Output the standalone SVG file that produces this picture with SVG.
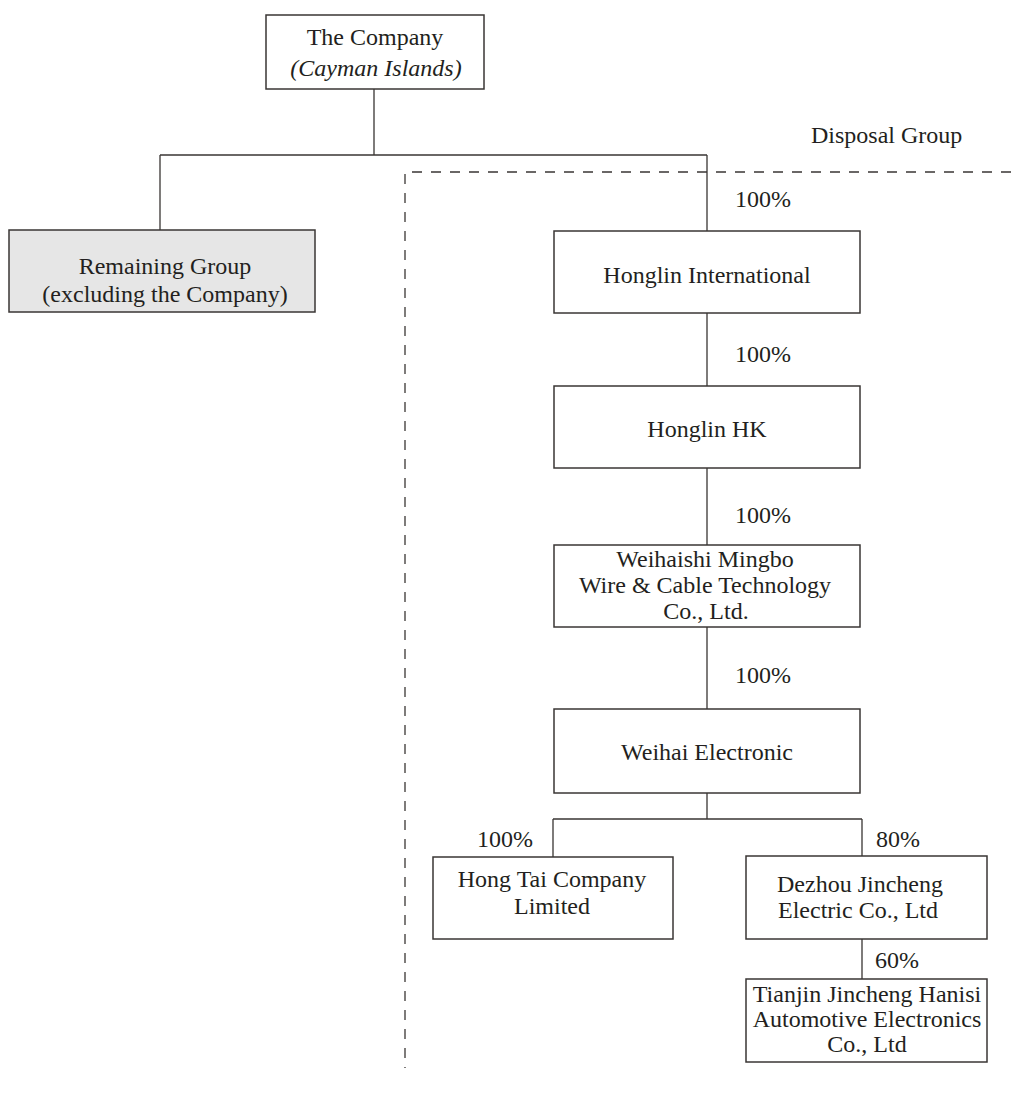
<svg xmlns="http://www.w3.org/2000/svg" width="1011" height="1094" viewBox="0 0 1011 1094">
<style>
.box{fill:#fff;stroke:#3a3634;stroke-width:1.5}
.grey{fill:#e6e6e6}
.ln{stroke:#3a3634;stroke-width:1.3;fill:none}
.dash{stroke:#3a3634;stroke-width:1.3;fill:none;stroke-dasharray:10,9}
text{font-family:"Liberation Serif","Times New Roman",serif;font-size:24px;fill:#231f20}
.c{text-anchor:middle}
</style>
<rect width="1011" height="1094" fill="#fff"/>
<g id="connectors">
<path class="ln" d="M374 89V155M160 155H707M160 155V230M707 155V231"/>
<path class="ln" d="M707 313V386M707 468V545M707 627V709M707 793V819M553 819H862M553 819V857M862 819V856M862 939V979"/>
<path class="dash" d="M1011 172H405V1068"/>
</g>
<g id="company"><rect class="box" x="266" y="15" width="218" height="74"/>
<text class="c" x="375" y="45">The Company</text><text class="c" x="376" y="76" font-style="italic">(Cayman Islands)</text></g>
<g id="remaining"><rect class="box grey" x="9" y="230" width="306" height="82"/>
<text class="c" x="165" y="274">Remaining Group</text><text class="c" x="165" y="302">(excluding the Company)</text></g>
<g id="disposal-label"><text x="811" y="143">Disposal Group</text></g>
<g id="honglin-intl"><rect class="box" x="554" y="231" width="306" height="82"/>
<text class="c" x="707" y="283">Honglin International</text></g>
<text x="735" y="207">100%</text>
<g id="honglin-hk"><rect class="box" x="554" y="386" width="306" height="82"/>
<text class="c" x="707" y="437">Honglin HK</text></g>
<text x="735" y="362">100%</text>
<g id="weihaishi"><rect class="box" x="554" y="545" width="306" height="82"/>
<text class="c" x="705" y="567">Weihaishi Mingbo</text><text class="c" x="705" y="593">Wire &amp; Cable Technology</text><text class="c" x="706" y="619">Co., Ltd.</text></g>
<text x="735" y="523">100%</text>
<g id="weihai-electronic"><rect class="box" x="554" y="709" width="306" height="84"/>
<text class="c" x="707" y="760">Weihai Electronic</text></g>
<text x="735" y="683">100%</text>
<g id="hong-tai"><rect class="box" x="433" y="857" width="240" height="82"/>
<text class="c" x="552" y="887">Hong Tai Company</text><text class="c" x="552" y="914">Limited</text></g>
<text x="477" y="847">100%</text>
<g id="dezhou"><rect class="box" x="746" y="856" width="241" height="83"/>
<text class="c" x="860" y="892">Dezhou Jincheng</text><text class="c" x="858" y="918">Electric Co., Ltd</text></g>
<text x="876" y="847">80%</text>
<g id="tianjin"><rect class="box" x="746" y="979" width="241" height="83"/>
<text class="c" x="867" y="1002">Tianjin Jincheng Hanisi</text><text class="c" x="867" y="1027">Automotive Electronics</text><text class="c" x="867" y="1052">Co., Ltd</text></g>
<text x="875" y="968">60%</text>
</svg>
